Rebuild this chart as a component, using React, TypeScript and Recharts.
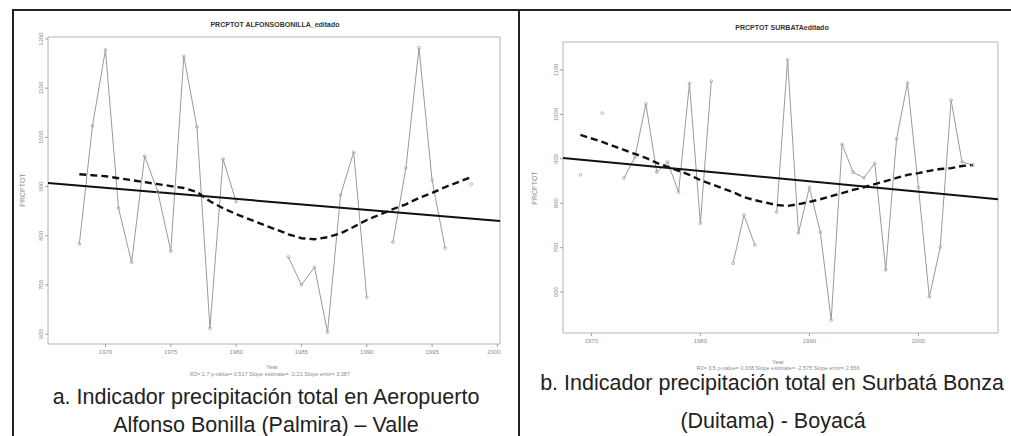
import React from 'react';
import { LineChart, Line, XAxis, YAxis, ReferenceLine, ReferenceArea } from 'recharts';

// ---------- Panel a: Aeropuerto Alfonso Bonilla (Palmira) ----------
const yearsA = [1968, 1969, 1970, 1971, 1972, 1973, 1974, 1975, 1976, 1977, 1978, 1979, 1980, 1981, 1982, 1983, 1984, 1985, 1986, 1987, 1988, 1989, 1990, 1991, 1992, 1993, 1994, 1995, 1996, 1997, 1998];
const precipA: (number | null)[] = [783, 1023, 1178, 856, 746, 962, 890, 769, 1165, 1021, 612, 956, 869, null, null, null, 757, 700, 736, 604, 883, 970, 675, null, 787, 938, 1182, 913, 775, null, 905];
const lowessA: (number | null)[] = [925, 923, 921, 917, 913, 909, 905, 901, 897, 889, 870, 856, 844, null, null, null, 803, 795, 793, 797, 805, 818, 832, null, 854, 864, 877, 887, 899, null, 919];
const xTicksA = [1970, 1975, 1980, 1985, 1990, 1995, 2000];
const yTicksA = [600, 700, 800, 900, 1000, 1100, 1200];
const xDomainA = [1965.6, 2000.2];
const yDomainA = [580, 1204];
const trendA = [907, 830];

// ---------- Panel b: Surbatá Bonza (Duitama) ----------
const yearsB = [1969, 1970, 1971, 1972, 1973, 1974, 1975, 1976, 1977, 1978, 1979, 1980, 1981, 1982, 1983, 1984, 1985, 1986, 1987, 1988, 1989, 1990, 1991, 1992, 1993, 1994, 1995, 1996, 1997, 1998, 1999, 2000, 2001, 2002, 2003, 2004, 2005];
const precipB: (number | null)[] = [864, null, 1003, null, 857, 904, 1024, 870, 893, 825, 1070, 755, 1075, null, 665, 773, 706, null, 780, 1123, 733, 836, 735, 537, 933, 870, 857, 890, 650, 945, 1071, 836, 589, 701, 1032, 893, 886];
const lowessB: (number | null)[] = [954, null, 938, null, 920, 911, 902, 891, 882, 873, 864, 852, 843, null, 825, 814, 807, null, 796, 794, 798, 803, 809, 816, 823, 830, 836, 843, 850, 857, 864, 868, 873, 877, 879, 884, 886];
const xTicksB = [1970, 1980, 1990, 2000];
const yTicksB = [600, 700, 800, 900, 1000, 1100];
const xDomainB = [1967.4, 2007.3];
const yDomainB = [508, 1163];
const trendB = [902, 809];

const FONT = '"Liberation Sans", Arial, Helvetica, sans-serif';
const TICK_COLOR = '#8c8c8c';

const YTick = (props: any) => {
  const { x, y, payload } = props;
  return (
    <text x={x} y={y} transform={`rotate(-90 ${x} ${y})`} textAnchor="middle" fontSize={6} fill={TICK_COLOR} fontFamily={FONT}>
      {payload.value}
    </text>
  );
};

const XTick = (props: any) => {
  const { x, y, payload } = props;
  return (
    <text x={x} y={y} dy={5} textAnchor="middle" fontSize={6} fill={TICK_COLOR} fontFamily={FONT}>
      {payload.value}
    </text>
  );
};

type PanelProps = {
  left: number;
  width: number;
  margin: { top: number; right: number; bottom: number; left: number };
  years: number[];
  precip: (number | null)[];
  lowess: (number | null)[];
  xTicks: number[];
  yTicks: number[];
  xDomain: number[];
  yDomain: number[];
  trend: number[];
};

const Panel = ({ left, width, margin, years, precip, lowess, xTicks, yTicks, xDomain, yDomain, trend }: PanelProps) => {
  const data = years.map((year, i) => ({ year, value: precip[i], lowess: lowess[i] }));
  return (
    <div style={{ position: 'absolute', left, top: 0 }}>
      <LineChart width={width} height={436} data={data} margin={margin}>
        <XAxis
          type="number"
          dataKey="year"
          domain={xDomain}
          ticks={xTicks}
          allowDataOverflow
          height={20}
          tickSize={3}
          tickMargin={2}
          axisLine={false}
          tickLine={{ stroke: '#a0a0a0' }}
          tick={<XTick />}
        />
        <YAxis
          type="number"
          domain={yDomain}
          ticks={yTicks}
          allowDataOverflow
          width={30}
          tickSize={3}
          tickMargin={2}
          axisLine={false}
          tickLine={{ stroke: '#a0a0a0' }}
          tick={<YTick />}
        />
        <ReferenceArea x1={xDomain[0]} x2={xDomain[1]} y1={yDomain[0]} y2={yDomain[1]} fill="none" stroke="#b4b4b4" strokeWidth={1} ifOverflow="visible" />
        <Line
          type="linear"
          dataKey="value"
          stroke="#9a9a9a"
          strokeWidth={1}
          connectNulls={false}
          dot={{ r: 1.4, stroke: '#a8a8a8', strokeWidth: 0.8, fill: 'none' }}
          isAnimationActive={false}
        />
        <Line
          type="linear"
          dataKey="lowess"
          stroke="#111"
          strokeWidth={2.4}
          strokeDasharray="7 4"
          connectNulls
          dot={false}
          isAnimationActive={false}
        />
        <ReferenceLine
          segment={[{ x: xDomain[0], y: trend[0] }, { x: xDomain[1], y: trend[1] }]}
          stroke="#111"
          strokeWidth={2}
          ifOverflow="visible"
        />
      </LineChart>
    </div>
  );
};

export default function App() {
  return (
    <div style={{ position: 'absolute', left: 0, top: 0, width: 1011, height: 436, background: '#fff', overflow: 'hidden', fontFamily: FONT }}>
      <Panel
        left={0}
        width={510}
        margin={{ top: 37, right: 10, bottom: 72, left: 18 }}
        years={yearsA}
        precip={precipA}
        lowess={lowessA}
        xTicks={xTicksA}
        yTicks={yTicksA}
        xDomain={xDomainA}
        yDomain={yDomainA}
        trend={trendA}
      />
      <Panel
        left={519}
        width={492}
        margin={{ top: 42, right: 13, bottom: 83, left: 14 }}
        years={yearsB}
        precip={precipB}
        lowess={lowessB}
        xTicks={xTicksB}
        yTicks={yTicksB}
        xDomain={xDomainB}
        yDomain={yDomainB}
        trend={trendB}
      />
      <svg width={1011} height={436} style={{ position: 'absolute', left: 0, top: 0, pointerEvents: 'none' }}>
        <line x1={12} y1={10} x2={1011} y2={10} stroke="#222" strokeWidth={2} />
        <line x1={13} y1={9} x2={13} y2={436} stroke="#222" strokeWidth={2} />
        <line x1={519} y1={9} x2={519} y2={436} stroke="#222" strokeWidth={2} />

        <text x={275} y={27} textAnchor="middle" fontSize={7} fontWeight="bold" fill="#333" fontFamily={FONT}>PRCPTOT   ALFONSOBONILLA_editado</text>
        <text x={782} y={30} textAnchor="middle" fontSize={7} fontWeight="bold" fill="#333" fontFamily={FONT}>PRCPTOT   SURBATAeditado</text>

        <text x={25} y={190} transform="rotate(-90 25 190)" textAnchor="middle" fontSize={7} fill={TICK_COLOR} fontFamily={FONT}>PRCPTOT</text>
        <text x={537} y={188} transform="rotate(-90 537 188)" textAnchor="middle" fontSize={7} fill={TICK_COLOR} fontFamily={FONT}>PRCPTOT</text>

        <text x={272} y={369} textAnchor="middle" fontSize={6} fill={TICK_COLOR} fontFamily={FONT}>Year</text>
        <text x={270} y={376} textAnchor="middle" fontSize={5.5} fill={TICK_COLOR} fontFamily={FONT}>R2= 1.7  p-value= 0.517  Slope estimate= -2.21  Slope error= 3.387</text>
        <text x={778} y={364} textAnchor="middle" fontSize={6} fill={TICK_COLOR} fontFamily={FONT}>Year</text>
        <text x={778} y={370} textAnchor="middle" fontSize={5.5} fill={TICK_COLOR} fontFamily={FONT}>R2= 3.5  p-value= 0.338  Slope estimate= -2.575  Slope error= 2.656</text>

        <text x={266} y={404} textAnchor="middle" fontSize={21.5} fill="#222" fontFamily={FONT}>a. Indicador precipitación total en Aeropuerto</text>
        <text x={266} y={432} textAnchor="middle" fontSize={21.5} fill="#222" fontFamily={FONT}>Alfonso Bonilla (Palmira) – Valle</text>
        <text x={772} y={390} textAnchor="middle" fontSize={21.5} fill="#222" fontFamily={FONT}>b. Indicador precipitación total en Surbatá Bonza</text>
        <text x={773} y={428} textAnchor="middle" fontSize={21.5} fill="#222" fontFamily={FONT}>(Duitama) - Boyacá</text>
      </svg>
    </div>
  );
}
